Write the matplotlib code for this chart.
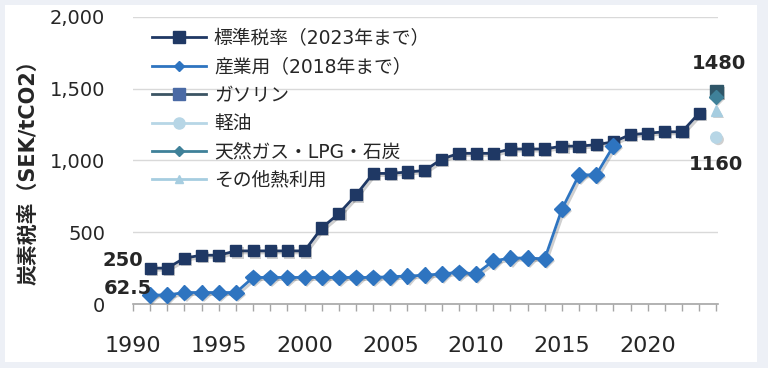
import numpy as np
import matplotlib
matplotlib.use("Agg")
import matplotlib.pyplot as plt
import matplotlib.patheffects as pe
from matplotlib.lines import Line2D
from matplotlib.patches import Rectangle

# data (SEK/tCO2)
std_years = list(range(1991, 2024))
std_rate = [250, 250, 320, 340, 340, 370, 370, 370, 370, 370,
            530, 630, 760, 910, 910, 920, 930, 1010, 1050, 1050,
            1050, 1080, 1080, 1080, 1100, 1100, 1110, 1130, 1180, 1190,
            1200, 1200, 1330]

ind_years = list(range(1991, 2019))
ind_rate = [62.5, 62.5, 80, 80, 80, 80, 185, 185, 185, 185,
            185, 185, 185, 185, 190, 195, 200, 210, 220, 210,
            300, 320, 320, 315, 660, 900, 900, 1100]

last_year = 2024
gasoline = 1480
diesel = 1160
natgas = 1440
other_heat = 1350

labels = ["標準税率（2023年まで）", "産業用（2018年まで）", "ガソリン",
          "軽油", "天然ガス・LPG・石炭", "その他熱利用"]

NUM = ["DejaVu Sans", "Noto Sans CJK JP"]

fig = plt.figure(figsize=(7.68, 3.68), dpi=100, facecolor="#edf0f6")
fig.patches.append(Rectangle((5 / 768, 6 / 368), 752 / 768, 357 / 368,
                             transform=fig.transFigure, facecolor="white",
                             edgecolor="none", zorder=-10))
ax = fig.add_axes([133 / 768, 1 - 304 / 368, 585 / 768, 287 / 368])
ax.set_facecolor("none")

line_fx = [pe.SimpleLineShadow(offset=(1.5, -1.5), shadow_color="#404040", alpha=0.25), pe.Normal()]
mark_fx = [pe.SimplePatchShadow(offset=(1.5, -1.5), shadow_rgbFace="#404040", alpha=0.25), pe.Normal()]

def series(x, y, color, marker, ms, lw=2.0, z=3, mfc=None):
    mfc = mfc or color
    if len(x) > 1:
        ax.plot(x, y, color=color, lw=lw, zorder=z, path_effects=line_fx, clip_on=False)
    ax.plot(x, y, ls="none", marker=marker, ms=ms, mfc=mfc, mec=mfc,
            zorder=z + 0.5, path_effects=mark_fx, clip_on=False)

c_std = "#1f3864"
c_ind = "#2e74c0"
c_gas = "#2f5668"
c_die = "#b7d6e6"
c_nat = "#3f8199"
c_oth = "#a6cde0"

series(std_years, std_rate, c_std, "s", 8)
series(ind_years, ind_rate, c_ind, "D", 8, z=4)
series([last_year], [gasoline], c_gas, "s", 9, z=5)
series([last_year], [diesel], c_die, "o", 8, z=5)
series([last_year], [natgas], c_nat, "D", 7, z=6)
series([last_year], [other_heat], c_oth, "^", 8, z=5)

ax.set_xlim(1990, 2024.1)
ax.set_ylim(0, 2000)
ax.set_yticks([0, 500, 1000, 1500, 2000])
ax.set_yticklabels(["0", "500", "1,000", "1,500", "2,000"])
ax.set_xticks(range(1990, 2021, 5))
ax.set_xticks(range(1990, 2025), minor=True)
ax.grid(axis="y", color="#d9d9d9", lw=1.0, zorder=1)
ax.set_axisbelow(True)
for s in ["top", "right", "left"]:
    ax.spines[s].set_visible(False)
ax.spines["bottom"].set_color("#a6a6a6")
ax.spines["bottom"].set_linewidth(1.2)
ax.tick_params(axis="y", length=0, pad=20, labelsize=14, labelcolor="#262626")
ax.tick_params(axis="x", which="both", length=5, width=1, color="#a6a6a6",
               labelsize=16, labelcolor="#262626", pad=18)
for t in ax.get_xticklabels() + ax.get_yticklabels():
    t.set_fontfamily(NUM)

ax.set_ylabel("炭素税率（SEK/tCO2）", family=NUM, fontsize=15, fontweight="bold",
              color="#262626")
ax.yaxis.set_label_coords(-0.162, 0.475)

# value labels
lab = dict(family=NUM, fontsize=14, fontweight="bold", color="#262626",
           textcoords="offset pixels", zorder=8)
ax.annotate("250", (std_years[0], std_rate[0]), xytext=(-7, 8), ha="right", va="center", **lab)
ax.annotate("62.5", (ind_years[0], ind_rate[0]), xytext=(2, 7), ha="right", va="center", **lab)
ax.annotate("1480", (last_year, gasoline), xytext=(3, 28), ha="center", va="center", **lab)
ax.annotate("1160", (last_year, diesel), xytext=(0, -27), ha="center", va="center", **lab)

handles = [
    Line2D([], [], color=c_std, lw=2, marker="s", ms=8),
    Line2D([], [], color=c_ind, lw=2, marker="D", ms=5),
    Line2D([], [], color="#3b5463", lw=2, marker="s", ms=8, mfc="#4a6aa5", mec="#4a6aa5"),
    Line2D([], [], color=c_die, lw=2, marker="o", ms=8),
    Line2D([], [], color=c_nat, lw=2, marker="D", ms=5),
    Line2D([], [], color=c_oth, lw=2, marker="^", ms=6),
]
leg = ax.legend(handles, labels, loc="upper left", bbox_to_anchor=(152 / 768, 1 - 29 / 368),
                bbox_transform=fig.transFigure, frameon=False, prop={"family": NUM, "size": 13.5},
                handlelength=2.9, handletextpad=0.4, labelspacing=0.5, borderpad=0,
                borderaxespad=0)
for t in leg.get_texts():
    t.set_color("#262626")

fig.savefig("out.png", dpi=100, facecolor=fig.get_facecolor())
